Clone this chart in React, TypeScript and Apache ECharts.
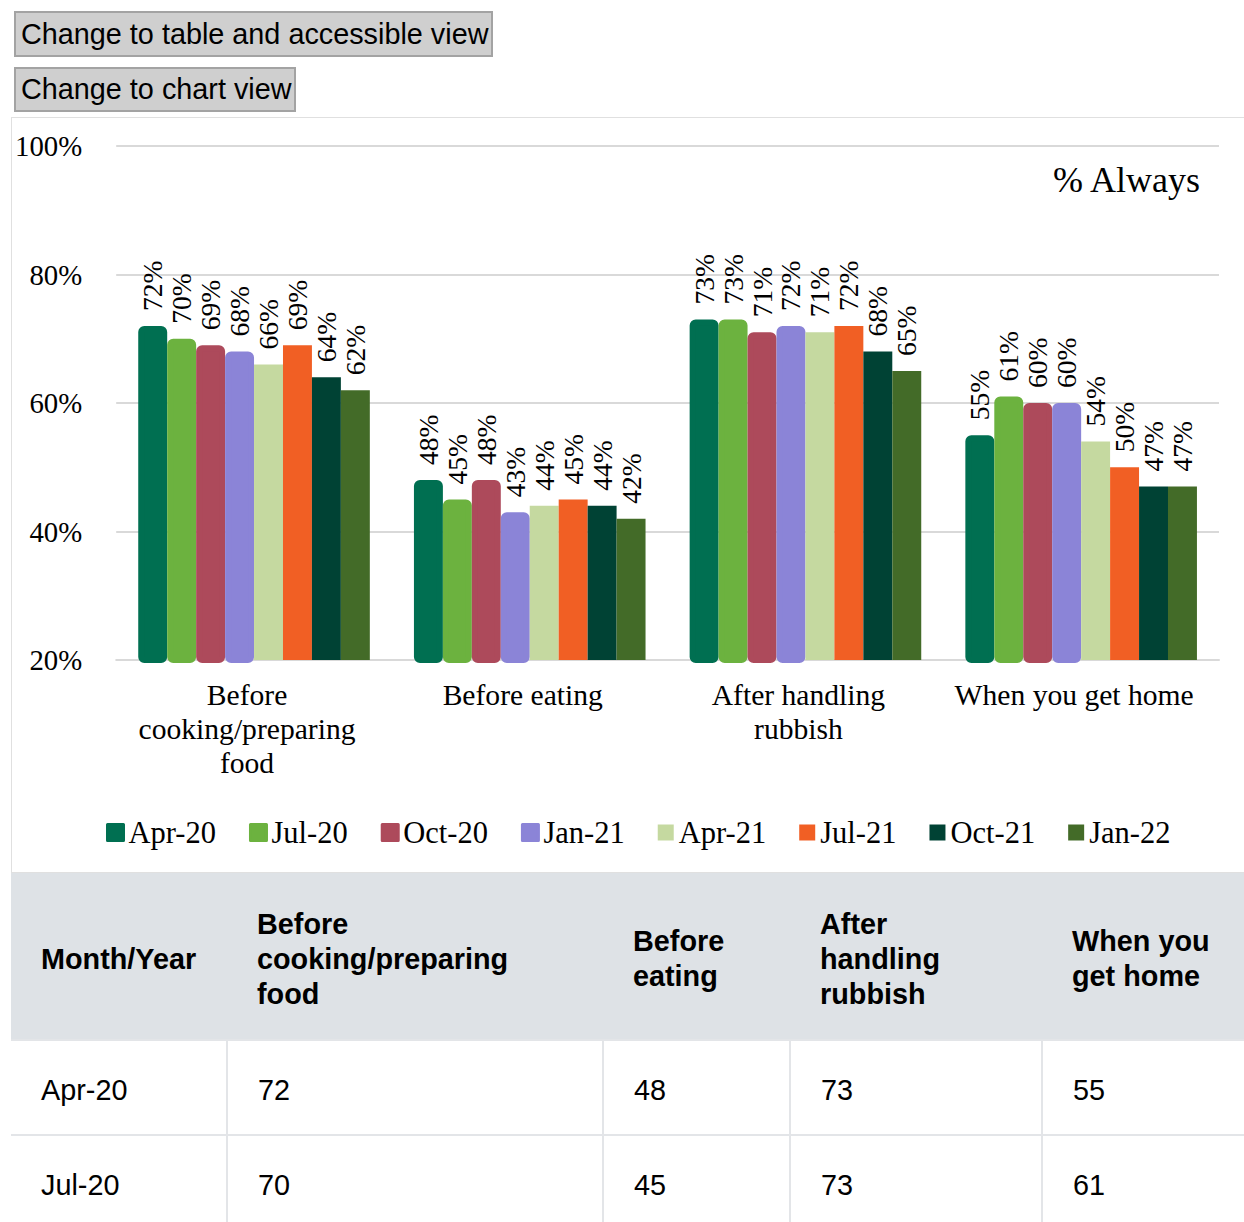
import React, { useEffect, useRef } from "react";
import * as echarts from "echarts";

const categories = [
  "Before cooking/preparing food",
  "Before eating",
  "After handling rubbish",
  "When you get home",
];
const axisCategoryLabels = [
  "Before\ncooking/preparing\nfood",
  "Before eating",
  "After handling\nrubbish",
  "When you get home",
];
const periods = ["Apr-20", "Jul-20", "Oct-20", "Jan-21", "Apr-21", "Jul-21", "Oct-21", "Jan-22"];

const apr20 = [72, 48, 73, 55];
const jul20 = [70, 45, 73, 61];
const oct20 = [69, 48, 71, 60];
const jan21 = [68, 43, 72, 60];
const apr21 = [66, 44, 71, 54];
const jul21 = [69, 45, 72, 50];
const oct21 = [64, 44, 68, 47];
const jan22 = [62, 42, 65, 47];
const seriesValues = [apr20, jul20, oct20, jan21, apr21, jul21, oct21, jan22];

const colors = ["#006f51", "#6cb23f", "#ad4a5b", "#8b84d7", "#c5d9a0", "#f15f24", "#004234", "#436b28"];

const yMin = 20;
const yMax = 100;
const yStep = 20;
const titleText = "% Always";
const tableHeaderFirst = "Month/Year";

const SERIF = "Liberation Serif, Times New Roman, serif";
const SANS = '"Liberation Sans", Arial, sans-serif';

function Chart() {
  const ref = useRef<HTMLDivElement>(null);
  useEffect(() => {
    const chart = echarts.init(ref.current!, null, { renderer: "svg" });
    chart.setOption({
      animation: false,
      textStyle: { fontFamily: SERIF },
      grid: { left: 102, top: 28, width: 1105, height: 514 },
      legend: {
        left: 89,
        top: 694,
        itemWidth: 16,
        itemHeight: 16,
        itemGap: 33,
        data: periods.map((p, i) =>
          i < 4
            ? {
                name: p,
                icon: "rect",
                itemStyle: { color: colors[i], borderColor: colors[i], borderWidth: 3, borderJoin: "round" },
              }
            : { name: p, icon: "rect", itemStyle: { color: colors[i], borderWidth: 0 } }
        ),
        textStyle: { fontFamily: SERIF, fontSize: 30.5, color: "#000" },
      },
      graphic: [
        {
          type: "text",
          x: 1188,
          y: 62,
          style: {
            text: titleText,
            align: "right",
            verticalAlign: "middle",
            font: `36px ${SERIF}`,
            fill: "#000",
          },
        },
      ],
      xAxis: {
        type: "category",
        data: axisCategoryLabels,
        axisLine: { lineStyle: { color: "#d9d9d9", width: 2 } },
        axisTick: { show: false },
        axisLabel: {
          interval: 0,
          fontFamily: SERIF,
          fontSize: 29.6,
          color: "#000",
          lineHeight: 34,
          margin: 18,
          padding: [0, 14, 0, 0],
        },
      },
      yAxis: {
        type: "value",
        min: yMin,
        max: yMax,
        interval: yStep,
        axisLine: { show: false },
        axisTick: { show: false },
        axisLabel: {
          formatter: "{value}%",
          fontFamily: SERIF,
          fontSize: 28.8,
          color: "#000",
          margin: 34,
        },
        splitLine: { lineStyle: { color: "#d9d9d9", width: 2 } },
      },
      series: periods.map((p, i) => ({
        type: "bar",
        name: p,
        data: seriesValues[i],
        barGap: "0%",
        barCategoryGap: "16%",
        itemStyle:
          i < 4
            ? { color: colors[i], borderColor: colors[i], borderWidth: 6, borderRadius: 3 }
            : { color: colors[i] },
        label: {
          show: true,
          position: "top",
          rotate: 90,
          align: "left",
          verticalAlign: "middle",
          distance: i < 4 ? 15 : 15,
          formatter: "{v|{c}%}",
          fontFamily: SERIF,
          fontSize: 27.5,
          color: "#000",
          rich: {
            v: { fontFamily: SERIF, fontSize: 27.5, color: "#000" },
          },
        },
      })),
    });
    return () => chart.dispose();
  }, []);
  return <div ref={ref} style={{ width: 1238, height: 754 }} />;
}

const btnStyle: React.CSSProperties = {
  position: "absolute",
  left: 14,
  fontFamily: SANS,
  fontSize: 28.8,
  background: "#cfcfcf",
  border: "2px solid #a3a3a3",
  color: "#000",
  padding: "0 5px",
  boxSizing: "border-box",
  textAlign: "left",
  whiteSpace: "nowrap",
};

const colWidths = [216, 376, 187, 252, 240];

export default function App() {
  const cellBase: React.CSSProperties = {
    padding: "6px 40px 0 30px",
    verticalAlign: "middle",
    textAlign: "left",
    fontFamily: SANS,
    fontSize: 28.8,
    lineHeight: "35px",
    color: "#000",
  };
  return (
    <div
      style={{
        position: "fixed",
        left: 0,
        top: 0,
        width: 1244,
        height: 1222,
        overflow: "hidden",
        background: "#fff",
      }}
    >
      <button style={{ ...btnStyle, top: 11, width: 479, height: 46 }}>Change to table and accessible view</button>
      <button style={{ ...btnStyle, top: 67, width: 282, height: 45 }}>Change to chart view</button>
      <div
        style={{
          position: "absolute",
          left: 11,
          top: 117,
          width: 1240,
          height: 756,
          border: "1px solid #e0e0e0",
          boxSizing: "border-box",
        }}
      >
        <Chart />
      </div>
      <table
        style={{
          position: "absolute",
          left: 11,
          top: 873,
          width: colWidths.reduce((a, b) => a + b, 0),
          borderCollapse: "collapse",
          tableLayout: "fixed",
        }}
      >
        <colgroup>
          {colWidths.map((w, i) => (
            <col key={i} style={{ width: w }} />
          ))}
        </colgroup>
        <thead>
          <tr style={{ height: 167, background: "#dee2e6" }}>
            <th style={{ ...cellBase, fontWeight: "bold" }}>{tableHeaderFirst}</th>
            {categories.map((c) => (
              <th key={c} style={{ ...cellBase, fontWeight: "bold" }}>
                {c}
              </th>
            ))}
          </tr>
        </thead>
        <tbody>
          {periods.map((p, i) => (
            <tr key={p} style={{ height: 95 }}>
              <td style={{ ...cellBase, border: "2px solid #e3e5e8", borderLeft: "none" }}>{p}</td>
              {seriesValues[i].map((v, j) => (
                <td key={j} style={{ ...cellBase, border: "2px solid #e3e5e8" }}>
                  {v}
                </td>
              ))}
            </tr>
          ))}
        </tbody>
      </table>
    </div>
  );
}
